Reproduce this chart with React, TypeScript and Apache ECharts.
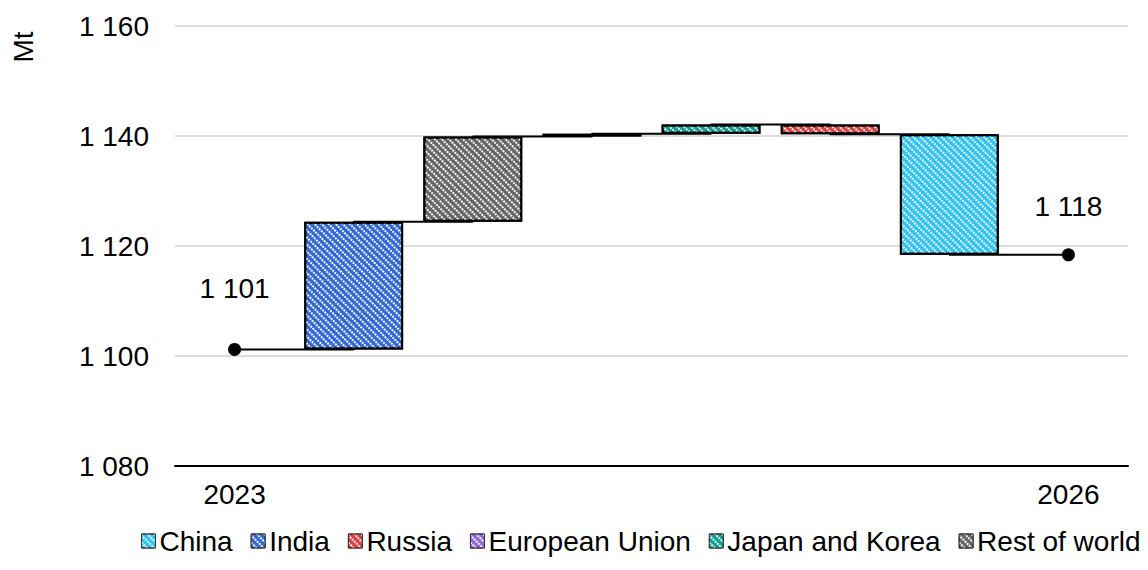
import React, { useEffect, useRef } from "react";
import * as echarts from "echarts";

// ---- data ----
const categories = ["2023", "India", "Rest of world", "European Union", "Japan and Korea", "Russia", "China", "2026"];
const startValue = 1101.2;
const regionNames = ["India", "Rest of world", "European Union", "Japan and Korea", "Russia", "China"];
const regionChanges = [23.2, 15.5, 0.5, 1.7, -1.8, -21.9];
const legendOrder = ["China", "India", "Russia", "European Union", "Japan and Korea", "Rest of world"];
const yMin = 1080;
const yMax = 1160;
const yStep = 20;

const regionColors: Record<string, string> = {
  China: "#2fc3f2",
  India: "#3168d6",
  Russia: "#e23c3c",
  "European Union": "#9366de",
  "Japan and Korea": "#0fa08f",
  "Rest of world": "#666666",
};

const FONT = "'Liberation Sans', Arial, sans-serif";
const FS = 28;

const fmt = (n: number) =>
  Math.round(n)
    .toString()
    .replace(/\B(?=(\d{3})+(?!\d))/g, " ");

export default function App() {
  const ref = useRef<HTMLDivElement>(null);
  useEffect(() => {
    if (!ref.current) return;
    const chart = echarts.init(ref.current, null, { renderer: "svg" });

    // cumulative levels
    const levels: number[] = [startValue];
    regionChanges.forEach((c, i) => levels.push(levels[i] + c));
    levels.push(levels[levels.length - 1]);

    const baseData = categories.map((_, i) =>
      i === 0 || i === categories.length - 1 ? "-" : Math.min(levels[i - 1], levels[i])
    );

    const decal = {
      symbol: "rect",
      symbolSize: 1,
      dashArrayX: [[2, 1]],
      dashArrayY: [1.6, 2.2],
      rotation: Math.PI / 4,
      color: "rgba(255,255,255,0.95)",
    };

    const regionSeries = regionNames.map((name, r) => {
      const idx = r + 1;
      const data = categories.map((_, i) => (i === idx ? Math.abs(regionChanges[r]) : "-"));
      return {
        name,
        type: "bar",
        stack: "wf",
        barWidth: "83%",
        z: 3,
        itemStyle: {
          color: regionColors[name],
          borderColor: "#000",
          borderWidth: 2,
          decal,
        },
        data,
      };
    });

    chart.setOption({
      animation: false,
      textStyle: { fontFamily: FONT },
      grid: { left: 175, top: 26, width: 953, height: 440, containLabel: false },
      legend: {
        data: legendOrder,
        left: 141,
        top: 527,
        width: 1060,
        padding: 0,
        itemWidth: 14,
        itemHeight: 14,
        itemGap: 18,
        icon: "rect",
        itemStyle: { borderWidth: 1, borderColor: "#333" },
        textStyle: { fontFamily: FONT, fontSize: FS, color: "#000", padding: [0, 0, 0, -1] },
      },
      xAxis: {
        type: "category",
        data: categories,
        axisLine: { show: true, onZero: false, lineStyle: { color: "#000", width: 2 } },
        axisTick: { show: false },
        axisLabel: {
          interval: 0,
          margin: 14,
          fontFamily: FONT,
          fontSize: FS,
          color: "#000",
          formatter: (v: string, i: number) => (i === 0 || i === categories.length - 1 ? v : ""),
        },
      },
      yAxis: {
        type: "value",
        min: yMin,
        max: yMax,
        interval: yStep,
        axisLine: { show: false },
        axisTick: { show: false },
        splitLine: { show: true, lineStyle: { color: "#dcdcdc", width: 2 } },
        axisLabel: { margin: 26, fontFamily: FONT, fontSize: FS, color: "#000", formatter: (v: number) => fmt(v) },
      },
      graphic: [
        {
          type: "text",
          x: 23,
          y: 47,
          rotation: Math.PI / 2,
          style: { text: "Mt", fontFamily: FONT, fontSize: FS, fill: "#000", textAlign: "center", textVerticalAlign: "middle" },
        },
      ],
      series: [
        {
          name: "connector",
          type: "line",
          step: "end",
          symbol: "none",
          z: 1,
          silent: true,
          lineStyle: { color: "#000", width: 2 },
          data: levels,
        },
        {
          name: "_base",
          type: "bar",
          stack: "wf",
          barWidth: "83%",
          silent: true,
          z: 3,
          itemStyle: { color: "rgba(0,0,0,0)", borderWidth: 0 },
          data: baseData,
        },
        ...regionSeries,
        {
          name: "points",
          type: "scatter",
          symbol: "circle",
          symbolSize: 13,
          z: 5,
          itemStyle: { color: "#000", opacity: 1 },
          label: {
            show: true,
            position: "top",
            fontFamily: FONT,
            fontSize: FS,
            color: "#000",
            opacity: 1,
            formatter: (p: any) => fmt(p.value[1]),
          },
          data: [
            { value: [0, levels[0]], label: { distance: 40 } },
            { value: [categories.length - 1, levels[levels.length - 1]], label: { distance: 28 } },
          ],
        },
      ],
    });
    return () => chart.dispose();
  }, []);
  return <div ref={ref} style={{ position: "absolute", left: 0, top: 0, width: 1148, height: 570 }} />;
}
